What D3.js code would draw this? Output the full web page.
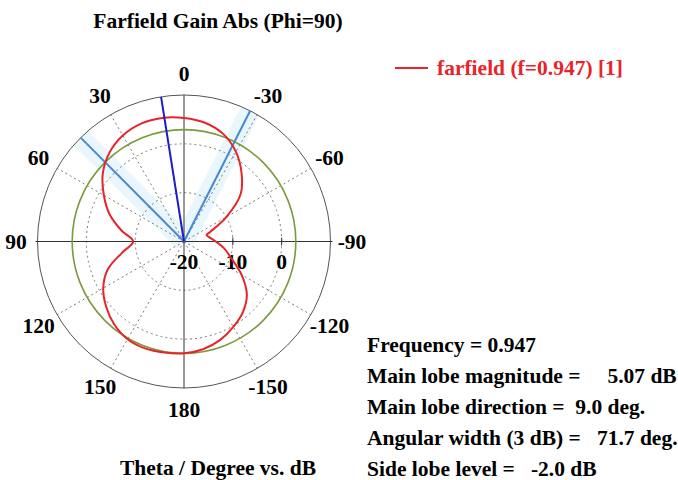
<!DOCTYPE html>
<html>
<head>
<meta charset="UTF-8">
<script src="https://d3js.org/d3.v7.min.js"></script>
<style>
    body { margin: 0; background: #fff; }
    svg text { font-family: 'Liberation Serif', 'Times New Roman', serif; font-weight: bold; }
</style>
</head>
<body>
<div id="chart"></div>
<script>
    // theta in degrees (positive = counter-clockwise from top), gain in dB
    const thetas = [-180, -170, -160, -150, -140, -130, -120, -110, -100, -90, -80, -74, -70, -60, -50, -40, -30, -20, -10,
                    0, 10, 20, 30, 40, 50, 60, 70, 80, 90, 100, 110, 120, 130, 140, 150, 160, 170];
    const gains = [2.9, 2.4, 1.5, 0.2, -1.2, -3.2, -6.4, -9.6, -11.6, -13.5, -14.8, -15.2, -14.3, -10.0, -4.85, -1.67, 1.24, 3.45, 4.7,
                   5.3, 5.7, 5.7, 5.07, 3.75, 1.7, -1.05, -3.8, -7.0, -9.6, -7.2, -3.4, -0.9, 0.8, 2.2, 3.1, 3.3, 3.1];

    const angleTicks = [0, 30, 60, 90, 120, 150, 180, -150, -120, -90, -60, -30];
    const radialTicks = [-20, -10, 0];
    const gridCircles = [-10, 0];

    const frequency = 0.947;
    const mainLobeMag = 5.07;
    const mainLobeDir = 9.0;
    const angularWidth = 71.7;
    const sideLobeLevel = -2.0;
    const threeDbLevel = 2.9;

    const width = 678, height = 480;
    const cx = 184, cy = 241.5, R = 146.5;
    const fs = 21.5;

    const svg = d3.select("#chart").append("svg")
        .attr("width", width)
        .attr("height", height);

    const r = d3.scaleLinear().domain([-20, 10]).range([0, R]);
    const rad = d => -d * Math.PI / 180;   // d3 radial: clockwise, ours: counter-clockwise
    const ray = (a, len) => [-len * Math.sin(a * Math.PI / 180), -len * Math.cos(a * Math.PI / 180)];

    const g = svg.append("g").attr("transform", `translate(${cx},${cy})`);

    // beam width edges (faint band first, under everything)
    const edges = [mainLobeDir + angularWidth / 2, mainLobeDir - angularWidth / 2];

    g.selectAll(".halo")
        .data(edges)
        .enter().append("line")
        .attr("x1", 0).attr("y1", 0)
        .attr("x2", a => ray(a, R)[0]).attr("y2", a => ray(a, R)[1])
        .attr("stroke", "#e9f6fb")
        .attr("stroke-width", 20);

    // grid
    g.selectAll(".spoke")
        .data(angleTicks.filter(a => a % 90 !== 0))
        .enter().append("line")
        .attr("x1", 0).attr("y1", 0)
        .attr("x2", a => ray(a, R)[0])
        .attr("y2", a => ray(a, R)[1])
        .attr("stroke", "#7a7a7a")
        .attr("stroke-dasharray", "2,3");

    g.selectAll(".grid")
        .data(gridCircles)
        .enter().append("circle")
        .attr("r", d => r(d))
        .attr("fill", "none")
        .attr("stroke", "#7a7a7a")
        .attr("stroke-dasharray", "2,3");

    g.append("circle")
        .attr("r", R)
        .attr("fill", "none")
        .attr("stroke", "#555");

    // axes
    g.append("line").attr("x1", 0).attr("x2", 0).attr("y1", -R).attr("y2", R).attr("stroke", "#333");
    g.append("line").attr("x1", -R - 2).attr("x2", R + 2).attr("y1", 0).attr("y2", 0).attr("stroke", "#333");

    g.selectAll(".rtick")
        .data(radialTicks.slice(1))
        .enter().append("line")
        .attr("x1", d => r(d)).attr("x2", d => r(d))
        .attr("y1", -4).attr("y2", 4)
        .attr("stroke", "#333");

    g.selectAll(".rlabel")
        .data(radialTicks)
        .enter().append("text")
        .attr("x", d => r(d))
        .attr("y", 27)
        .attr("text-anchor", "middle")
        .attr("font-size", fs)
        .text(d => d);

    g.selectAll(".alabel")
        .data(angleTicks)
        .enter().append("text")
        .attr("x", a => ray(a, 168)[0])
        .attr("y", a => ray(a, 168)[1])
        .attr("text-anchor", "middle")
        .attr("dominant-baseline", "central")
        .attr("font-size", fs)
        .text(a => a);

    // 3 dB circle
    g.append("circle")
        .attr("r", r(threeDbLevel))
        .attr("fill", "none")
        .attr("stroke", "#7a9a3e")
        .attr("stroke-width", 1.6);

    g.selectAll(".edge")
        .data(edges)
        .enter().append("line")
        .attr("x1", 0).attr("y1", 0)
        .attr("x2", a => ray(a, R)[0]).attr("y2", a => ray(a, R)[1])
        .attr("stroke", "#4689d2")
        .attr("stroke-width", 2);

    // pattern
    const pts = thetas.map((t, i) => [rad(t), r(gains[i])]);
    const line = d3.lineRadial().curve(d3.curveCatmullRomClosed.alpha(0.5));
    g.append("path")
        .attr("d", line(pts))
        .attr("fill", "none")
        .attr("stroke", "#e8232a")
        .attr("stroke-width", 2);

    // main lobe direction
    g.append("line")
        .attr("x1", 0).attr("y1", 0)
        .attr("x2", ray(mainLobeDir, R)[0]).attr("y2", ray(mainLobeDir, R)[1])
        .attr("stroke", "#1c1cc8")
        .attr("stroke-width", 2);

    // title
    svg.append("text")
        .attr("x", 218).attr("y", 28)
        .attr("text-anchor", "middle")
        .attr("font-size", fs)
        .text("Farfield Gain Abs (Phi=90)");

    svg.append("text")
        .attr("x", 218).attr("y", 475)
        .attr("text-anchor", "middle")
        .attr("font-size", fs)
        .text("Theta / Degree vs. dB");

    // legend
    svg.append("line")
        .attr("x1", 395).attr("x2", 428).attr("y1", 68).attr("y2", 68)
        .attr("stroke", "#e8232a").attr("stroke-width", 2);
    svg.append("text")
        .attr("x", 437).attr("y", 75)
        .attr("font-size", fs)
        .attr("fill", "#e8232a")
        .text(`farfield (f=${frequency}) [1]`);

    // results
    const results = [
        `Frequency = ${frequency}`,
        `Main lobe magnitude =     ${mainLobeMag.toFixed(2)} dB`,
        `Main lobe direction =  ${mainLobeDir.toFixed(1)} deg.`,
        `Angular width (3 dB) =   ${angularWidth.toFixed(1)} deg.`,
        `Side lobe level =   ${sideLobeLevel.toFixed(1)} dB`
    ];
    svg.selectAll(".res")
        .data(results)
        .enter().append("text")
        .attr("x", 367)
        .attr("y", (d, i) => 352 + i * 31)
        .attr("font-size", fs)
        .style("white-space", "pre")
        .text(d => d);
</script>
</body>
</html>
